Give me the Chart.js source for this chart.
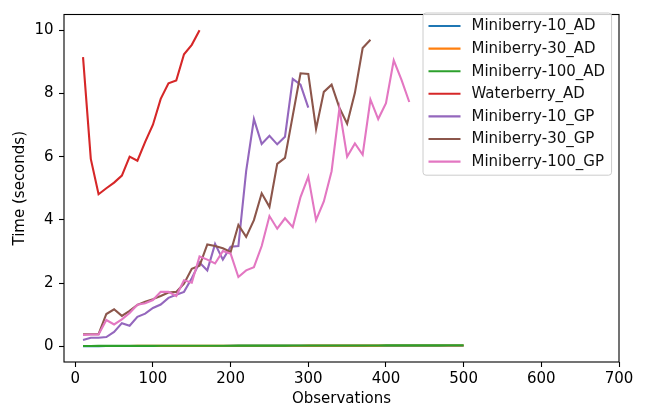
<!DOCTYPE html>
<html>
<head>
<meta charset="utf-8">
<script src="https://cdn.jsdelivr.net/npm/chart.js@4.4.1/dist/chart.umd.min.js"></script>
<style>
  html, body { margin: 0; padding: 0; background: #fff; }
  #wrap { width: 651px; height: 408px; }
</style>
</head>
<body>
<div id="wrap"><canvas id="chart" width="651" height="408"></canvas></div>
<script>
// Observation counts (x values), shared by every series.
const observations = [10, 20, 30, 40, 50, 60, 70, 80, 90, 100,
  110, 120, 130, 140, 150, 160, 170, 180, 190, 200,
  210, 220, 230, 240, 250, 260, 270, 280, 290, 300,
  310, 320, 330, 340, 350, 360, 370, 380, 390, 400,
  410, 420, 430, 440, 450, 460, 470, 480, 490, 500];

const xTicks = [0, 100, 200, 300, 400, 500, 600, 700];
const yTicks = [0, 2, 4, 6, 8, 10];

// Time in seconds.
const miniberry10AD = [0.004, 0.004, 0.004, 0.005, 0.005, 0.005, 0.005, 0.006, 0.006, 0.006,
  0.006, 0.007, 0.007, 0.007, 0.007, 0.008, 0.008, 0.008, 0.008, 0.009,
  0.009, 0.009, 0.009, 0.010, 0.010, 0.010, 0.010, 0.011, 0.011, 0.011,
  0.011, 0.011, 0.012, 0.012, 0.012, 0.012, 0.012, 0.013, 0.013, 0.013,
  0.013, 0.013, 0.014, 0.014, 0.014, 0.014, 0.014, 0.015, 0.015, 0.015];
const miniberry30AD = [0.006, 0.006, 0.007, 0.007, 0.008, 0.008, 0.008, 0.009, 0.009, 0.010,
  0.010, 0.010, 0.011, 0.011, 0.012, 0.012, 0.012, 0.013, 0.013, 0.013,
  0.014, 0.014, 0.014, 0.015, 0.015, 0.015, 0.016, 0.016, 0.016, 0.017,
  0.017, 0.017, 0.018, 0.018, 0.018, 0.019, 0.019, 0.019, 0.019, 0.020,
  0.020, 0.020, 0.021, 0.021, 0.021, 0.021, 0.022, 0.022, 0.022, 0.022];
const miniberry100AD = [0.008, 0.008, 0.009, 0.009, 0.010, 0.010, 0.011, 0.011, 0.012, 0.012,
  0.013, 0.013, 0.013, 0.014, 0.014, 0.015, 0.015, 0.016, 0.016, 0.016,
  0.017, 0.017, 0.018, 0.018, 0.019, 0.019, 0.019, 0.020, 0.020, 0.021,
  0.021, 0.021, 0.022, 0.022, 0.023, 0.023, 0.023, 0.024, 0.024, 0.025,
  0.025, 0.025, 0.026, 0.026, 0.027, 0.027, 0.027, 0.028, 0.028, 0.029];
const waterberryAD = [9.15, 5.93, 4.81, 5.0, 5.18, 5.4, 6.0, 5.87, 6.47, 7.01,
  7.83, 8.32, 8.41, 9.24, 9.54, 10.0];
const miniberry10GP = [0.2, 0.27, 0.27, 0.29, 0.45, 0.73, 0.65, 0.93, 1.03, 1.21,
  1.32, 1.53, 1.63, 1.72, 2.15, 2.65, 2.4, 3.24, 2.74, 3.15,
  3.17, 5.54, 7.19, 6.4, 6.66, 6.39, 6.63, 8.46, 8.28, 7.55];
const miniberry30GP = [0.38, 0.38, 0.38, 1.02, 1.17, 0.96, 1.12, 1.31, 1.41, 1.49,
  1.59, 1.70, 1.72, 1.98, 2.45, 2.55, 3.22, 3.17, 3.1, 2.98,
  3.84, 3.46, 3.99, 4.84, 4.41, 5.77, 5.96, 7.3, 8.64, 8.62,
  6.88, 8.05, 8.28, 7.55, 7.04, 8.02, 9.44, 9.7];
const miniberry100GP = [0.36, 0.37, 0.37, 0.83, 0.69, 0.85, 1.05, 1.31, 1.36, 1.46,
  1.72, 1.72, 1.59, 2.09, 2.01, 2.84, 2.74, 2.62, 3.01, 2.93,
  2.19, 2.4, 2.5, 3.17, 4.12, 3.72, 4.05, 3.77, 4.72, 5.37,
  3.99, 4.58, 5.54, 7.52, 6.0, 6.42, 6.06, 7.81, 7.19, 7.69,
  9.05, 8.43, 7.73];

const seriesNames = ['Miniberry-10_AD', 'Miniberry-30_AD', 'Miniberry-100_AD', 'Waterberry_AD',
  'Miniberry-10_GP', 'Miniberry-30_GP', 'Miniberry-100_GP'];
const seriesValues = [miniberry10AD, miniberry30AD, miniberry100AD, waterberryAD,
  miniberry10GP, miniberry30GP, miniberry100GP];
const seriesColors = ['#1f77b4', '#ff7f0e', '#2ca02c', '#d62728', '#9467bd', '#8c564b', '#e377c2'];

const FONT = '"DejaVu Sans", sans-serif';
const FONT_SIZE = 15;

function toPoints(values) {
  return values.map((v, i) => ({ x: observations[i], y: v }));
}

// Full box around the plot area, drawn over the lines like matplotlib spines.
const frame = {
  id: 'frame',
  afterDatasetsDraw(chart) {
    const { ctx, chartArea: a } = chart;
    ctx.save();
    ctx.strokeStyle = '#000';
    ctx.lineWidth = 1.1;
    ctx.strokeRect(a.left, a.top, a.right - a.left, a.bottom - a.top);
    ctx.restore();
  }
};

// Legend box inside the upper right of the plot.
const insideLegend = {
  id: 'insideLegend',
  afterDraw(chart) {
    const ctx = chart.ctx;
    const sets = chart.data.datasets;
    ctx.save();
    ctx.font = FONT_SIZE + 'px ' + FONT;
    let maxW = 0;
    sets.forEach(d => { maxW = Math.max(maxW, ctx.measureText(d.label).width); });

    const rowH = 22.6;
    const left = 423;
    const top = 13;
    const handleLen = 32;
    const gap = 11;
    const pad = 5.5;
    const w = pad + handleLen + gap + maxW + pad + 1;
    const h = rowH * sets.length + 4;

    ctx.beginPath();
    ctx.roundRect(left, top, w, h, 3);
    ctx.fillStyle = 'rgba(255,255,255,0.8)';
    ctx.fill();
    ctx.strokeStyle = '#cccccc';
    ctx.lineWidth = 1;
    ctx.stroke();

    sets.forEach((d, i) => {
      const cy = top + 13 + i * rowH;
      ctx.beginPath();
      ctx.moveTo(left + pad, cy);
      ctx.lineTo(left + pad + handleLen, cy);
      ctx.strokeStyle = d.borderColor;
      ctx.lineWidth = 2.1;
      ctx.stroke();
      ctx.fillStyle = '#111';
      ctx.textBaseline = 'middle';
      ctx.fillText(d.label, left + pad + handleLen + gap, cy + 0.5);
    });
    ctx.restore();
  }
};

const datasets = seriesNames.map((name, i) => ({
  label: name,
  data: toPoints(seriesValues[i]),
  borderColor: seriesColors[i],
  backgroundColor: seriesColors[i],
  borderWidth: 2.1,
  pointRadius: 0,
  tension: 0,
  fill: false,
  // later series on top, as in the source plot
  order: seriesNames.length - i
}));

Chart.defaults.font.family = FONT;
Chart.defaults.font.size = FONT_SIZE;
Chart.defaults.color = '#000';

new Chart(document.getElementById('chart').getContext('2d'), {
  type: 'line',
  data: { datasets },
  options: {
    responsive: false,
    animation: false,
    devicePixelRatio: 1,
    layout: { padding: { top: 6, right: 32, left: 0, bottom: 0 } },
    plugins: {
      legend: { display: false },
      tooltip: { enabled: false }
    },
    scales: {
      x: {
        type: 'linear',
        min: -14.5,
        max: 700,
        afterBuildTicks: (scale) => { scale.ticks = xTicks.map(v => ({ value: v })); },
        afterFit: (scale) => { scale.height = 46; },
        grid: { drawOnChartArea: false, drawTicks: true, tickLength: 5, tickColor: '#000', tickWidth: 1.1 },
        border: { display: false },
        ticks: { padding: 3, maxRotation: 0, autoSkip: false, color: '#000' },
        title: { display: true, text: 'Observations', color: '#000', padding: { top: 0, bottom: 0 } }
      },
      y: {
        type: 'linear',
        min: -0.5,
        max: 10.5,
        afterBuildTicks: (scale) => { scale.ticks = yTicks.map(v => ({ value: v })); },
        afterFit: (scale) => { scale.width = 64; },
        grid: { drawOnChartArea: false, drawTicks: true, tickLength: 5, tickColor: '#000', tickWidth: 1.1 },
        border: { display: false },
        ticks: { padding: 5.5, autoSkip: false, color: '#000' },
        title: { display: true, text: 'Time (seconds)', color: '#000', padding: { top: 11, bottom: 0 } }
      }
    }
  },
  plugins: [frame, insideLegend]
});
</script>
</body>
</html>
